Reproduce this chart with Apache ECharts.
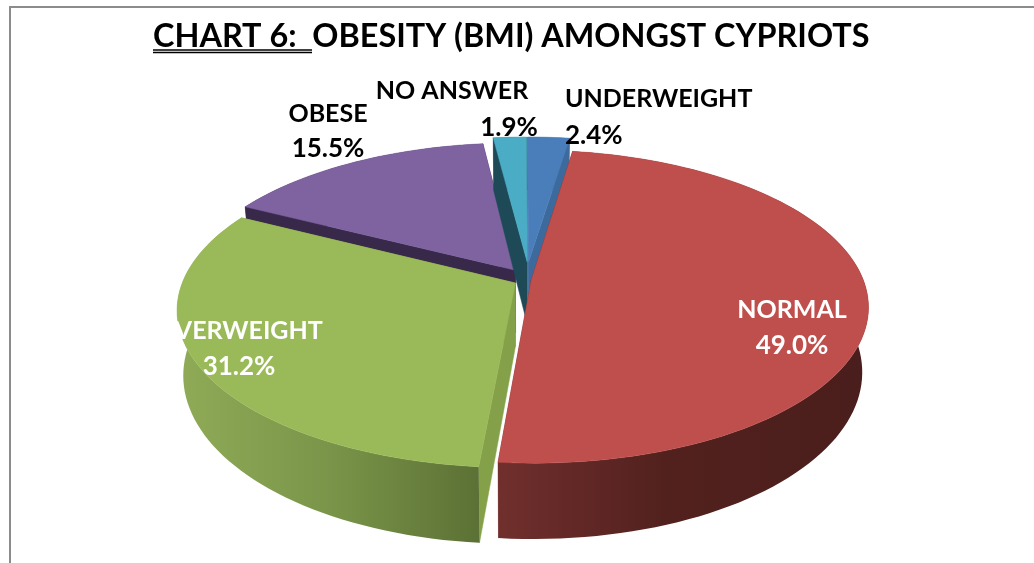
<!DOCTYPE html>
<html><head><meta charset="utf-8">
<style>html,body{margin:0;padding:0;background:#fff}#c{width:1034px;height:563px}</style>
<script src="https://cdn.jsdelivr.net/npm/echarts@6/dist/echarts.min.js"></script>
</head><body><div id="c"></div>
<script>
// ---- data ----
const categories = ['UNDERWEIGHT', 'NORMAL', 'OVERWEIGHT', 'OBESE', 'NO ANSWER'];
const percentages = [2.4, 49.0, 31.2, 15.5, 1.9];
const titleLead = 'CHART 6:  ';
const titleRest = 'OBESITY (BMI) AMONGST CYPRIOTS';

// ---- styles / layout ----
const topColors  = ['#4A7EBB', '#BE4F4C', '#9ABA59', '#7F63A1', '#4BACC6'];
const cutColors  = ['#3D6A9C', '#6E2C2B', '#84A049', '#38284A', '#1E4A57'];
const wallStops  = [
  [[0,'#3D6A9C'],[1,'#3D6A9C']],
  [[0,'#702F2D'],[0.12,'#682B29'],[0.45,'#52211E'],[1,'#4A1E1C']],
  [[0,'#8FAB57'],[0.5,'#7A9549'],[1,'#5C7135']],
  [[0,'#38284A'],[1,'#38284A']],
  [[0,'#1E4A57'],[1,'#1E4A57']]
];
const wallRange = [[520,580],[500,865],[180,478],[240,490],[490,530]];
const explodeU = [0.020, 0.028, -0.020, -0.020, 0.016];
const explodeV = [-0.12, 0.0, 0.02, -0.065, -0.12];
const paintOrder = [2, 4, 3, 0, 1]; // painter's rank per slice: back to front
const cx = 522, cy = 280, rx = 332, ry = 152, persp = 0.17, depth = 63, bottomScale = 0.982;
const labelSpots = [
  [[565,99,'left'],[565,136,'left']],
  [[792,310,'center'],[792,346,'center']],
  [[239,331,'center'],[239,367,'center']],
  [[328,114,'center'],[328,149,'center']],
  [[452,91,'center'],[509,128,'center']]
];
const labelColors = ['#000','#fff','#fff','#000','#000'];
const FONT = 'Lato, "Open Sans", sans-serif';

function project(u, v, z) {
  const f = 1 / (1 - persp * v);
  return [cx + rx * u * f * (z ? bottomScale : 1), cy + (ry * v + depth * z) * f];
}
function renderSlice(params, api) {
  const i = params.dataIndex;
  const value = api.value(0);
  let before = 0;
  for (let k = 0; k < i; k++) before += percentages[k];
  const a0 = before / 100 * 2 * Math.PI, a1 = (before + value) / 100 * 2 * Math.PI;
  const ex = explodeU[i], ev = explodeV[i];
  const steps = Math.max(4, Math.ceil(value * 2));
  const rim = [];
  for (let s = 0; s <= steps; s++) {
    const t = a0 + (a1 - a0) * s / steps;
    rim.push([Math.sin(t) + ex, -Math.cos(t) + ev]);
  }
  const base = paintOrder[i] * 10;
  const poly = (pts, fill, z2) => ({type: 'polygon', z2, shape: {points: pts},
    style: {fill, stroke: typeof fill === 'string' ? fill : null, lineWidth: typeof fill === 'string' ? 0.5 : 0}});
  const top = rim.map(p => project(p[0], p[1], 0));
  const hubT = project(ex, ev, 0), hubB = project(ex, ev, 1);
  const first = rim[0], last = rim[rim.length - 1];
  const wall = top.concat(rim.slice().reverse().map(p => project(p[0], p[1], 1)));
  const grad = new echarts.graphic.LinearGradient(wallRange[i][0], 0, wallRange[i][1], 0,
    wallStops[i].map(s => ({offset: s[0], color: s[1]})), true);
  const children = [
    poly([hubT, project(first[0], first[1], 0), project(first[0], first[1], 1), hubB], cutColors[i], base + 1),
    poly([hubT, project(last[0], last[1], 0), project(last[0], last[1], 1), hubB], cutColors[i], base + 1),
    poly(wall, grad, base + 2),
    poly([hubT].concat(top), topColors[i], base + 3)
  ];
  [categories[i], value.toFixed(1) + '%'].forEach((line, n) => {
    const spot = labelSpots[i][n];
    children.push({type: 'text', z2: 200, style: {
      text: line, x: spot[0], y: spot[1], align: spot[2], verticalAlign: 'middle',
      font: 'bold ' + (n ? 26 : 25) + 'px ' + FONT, fill: labelColors[i]}});
  });
  return {type: 'group', children};
}

const chart = echarts.init(document.getElementById('c'), null, {renderer: 'canvas'});
chart.setOption({
  animation: false,
  backgroundColor: '#fff',
  title: {
    text: '{a|' + titleLead + titleRest + '}',
    left: 148, top: 16,
    textStyle: {rich: {a: {fontFamily: FONT, fontWeight: 'bold', fontSize: 32.4, color: '#000'}}}
  },
  graphic: [
    {type: 'polyline', silent: true, shape: {points: [[10,563],[10,7],[1034,7]]}, style: {stroke: '#8C8C8C', lineWidth: 2, fill: null}},
    {type: 'line', silent: true, shape: {x1:153,y1:50,x2:312,y2:50}, style: {stroke:'#000', lineWidth:1.5}},
    {type: 'line', silent: true, shape: {x1:153,y1:52.5,x2:312,y2:52.5}, style: {stroke:'#000', lineWidth:1.5}}
  ],
  series: [{
    type: 'custom',
    coordinateSystem: 'none',
    renderItem: renderSlice,
    data: percentages.map(v => [v])
  }]
});
</script></body></html>
